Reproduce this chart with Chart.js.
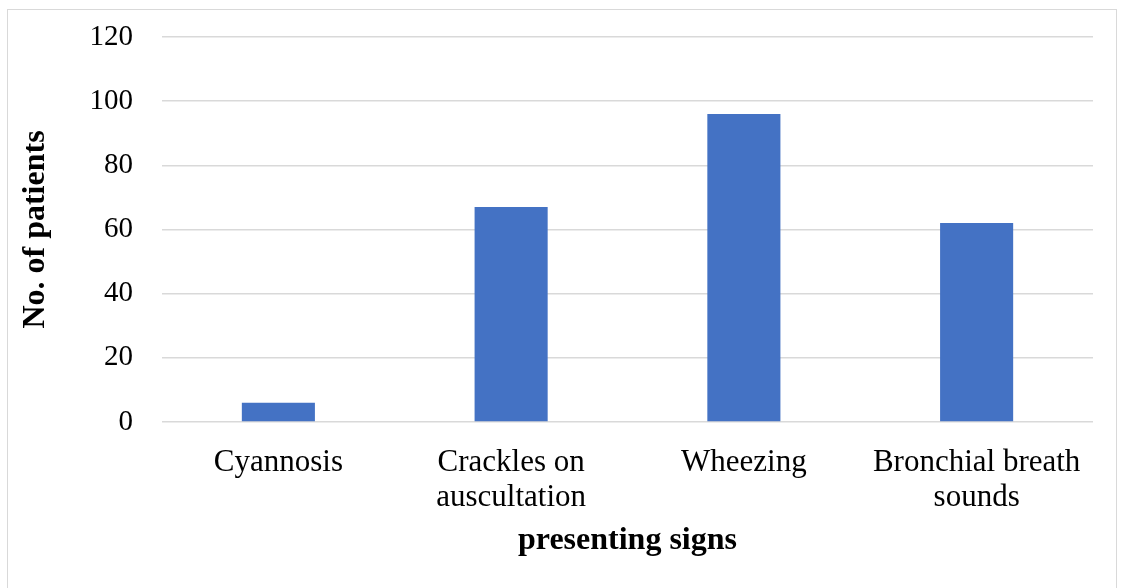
<!DOCTYPE html>
<html>
<head>
<meta charset="utf-8">
<script src="https://cdn.jsdelivr.net/npm/chart.js@4"></script>
<style>
  html, body { margin: 0; padding: 0; background: #fff; }
  #frame {
    position: absolute; left: 7px; top: 9px; width: 1110px; height: 620px;
    border: 1.5px solid #d9d9d9; box-sizing: border-box;
  }
  #wrap { position: absolute; left: 0; top: 0; width: 1123px; height: 588px; }
</style>
</head>
<body>
<div id="frame"></div>
<div id="wrap"><canvas id="signs_chart" width="1123" height="588"></canvas></div>
<script>
const categories = ["Cyannosis", ["Crackles on", "auscultation"], "Wheezing", ["Bronchial breath", "sounds"]];
const patients = [6, 67, 96, 62];
const y_ticks = [0, 20, 40, 60, 80, 100, 120];

const font_family = "'Liberation Serif', 'Times New Roman', serif";

const signs_ctx = document.getElementById("signs_chart");

const signs_chart = new Chart(signs_ctx, {
  type: "bar",
  data: {
    labels: categories,
    datasets: [
      {
        data: patients,
        backgroundColor: "#4472c4",
        borderWidth: 0,
        categoryPercentage: 1,
        barPercentage: 0.314,
      },
    ],
  },
  options: {
    responsive: false,
    animation: false,
    layout: {
      padding: { left: 8, right: 30, top: 37, bottom: 0 },
    },
    plugins: {
      legend: { display: false },
      tooltip: { enabled: false },
    },
    scales: {
      x: {
        grid: { display: false, drawTicks: false },
        border: { display: false },
        ticks: {
          color: "#000",
          padding: 23,
          maxRotation: 0,
          autoSkip: false,
          font: { family: font_family, size: 31, lineHeight: 35 / 31 },
        },
        title: {
          display: true,
          text: "presenting signs",
          color: "#000",
          padding: { top: 0, bottom: 28 },
          font: { family: font_family, size: 32, weight: "bold" },
        },
        afterFit: (scale) => {
          scale.height = 166;
          scale.paddingLeft = 0;
          scale.paddingRight = 0;
        },
      },
      y: {
        min: 0,
        max: 120,
        afterBuildTicks: (scale) => {
          scale.ticks = y_ticks.map((v) => ({ value: v }));
        },
        grid: { color: "#d9d9d9", lineWidth: 1.5, drawTicks: false },
        border: { display: false },
        ticks: {
          color: "#000",
          padding: 29,
          font: { family: font_family, size: 29 },
        },
        title: {
          display: true,
          text: "No. of patients",
          color: "#000",
          padding: { top: 9, bottom: 0 },
          font: { family: font_family, size: 32, weight: "bold" },
        },
        afterFit: (scale) => {
          scale.width = 154;
          scale.paddingTop = 0;
          scale.paddingBottom = 0;
        },
      },
    },
  },
});
</script>
</body>
</html>
